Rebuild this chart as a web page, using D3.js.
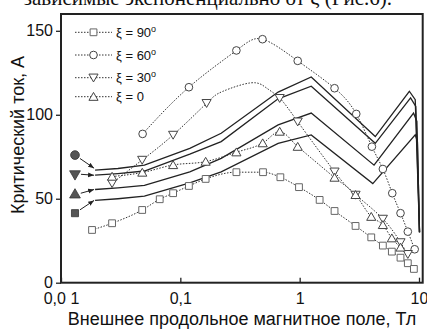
<!DOCTYPE html>
<html><head><meta charset="utf-8">
<script src="https://cdn.jsdelivr.net/npm/d3@7"></script>
<style>body{margin:0;background:#fff}svg{display:block}</style>
</head><body><svg id="c" width="427" height="332"></svg>
<script>
// ---- data (x in T, y in A) ----
const xi90 = [[0.0182,31.4],[0.0268,35.4],[0.0479,43.3],[0.0672,49.7],[0.087,53.3],[0.118,57.6],[0.163,61.8],[0.295,65.8],[0.493,65.8],[0.689,62.8],[0.987,56.9],[1.47,49.3],[1.96,42.7],[2.94,33.8],[3.98,27.0],[4.98,22.1],[5.92,18.5],[7.0,14.9],[8.06,11.6],[9.06,8.2]];
const xi60 = [[0.0483,88.6],[0.118,116.4],[0.295,138.3],[0.488,145.0],[0.963,132.1],[1.96,115.8],[2.98,100.5],[4.03,81.0],[4.98,67.7],[5.97,53.3],[7.0,41.4],[8.06,30.4],[9.2,19.9]];
const xi30 = [[0.0268,59.2],[0.0479,73.1],[0.087,88.0],[0.166,106.9],[0.68,109.9],[0.963,95.9],[1.96,66.1],[2.94,52.3],[4.98,38.0],[7.0,24.0],[8.06,17.0]];
// dotted guide curve of the ξ = 30° series
const xi30Curve = [[0.0268,59.2],[0.0479,73.1],[0.087,88.0],[0.166,106.9],[0.228,114],[0.39,119],[0.526,116],[0.68,109.9],[0.963,95.9],[1.96,66.1],[2.94,52.3],[4.98,38.0],[7.0,24.0],[8.06,17.0]];
const xi0  = [[0.0268,63.2],[0.048,65.6],[0.087,70.1],[0.163,72.1],[0.295,77.7],[0.49,83.1],[0.68,90.0],[0.963,81.0],[1.96,62.6],[2.94,52.3],[3.98,39.3],[4.98,34.4],[5.92,26.5],[7.0,21.0]];
// theoretical curves (solid)
const thA = [[0.0193,67],[0.03,68],[0.05,70],[0.12,80],[0.22,89],[0.66,113.5],[1.25,122.5],[4.3,87],[8.3,114],[9.3,109],[10.1,30]];
const thB = [[0.0193,64],[0.03,65],[0.05,66.5],[0.12,76.5],[0.22,84],[0.66,109.5],[1.25,117],[4.3,83],[8.5,110],[9.4,105],[10.1,30]];
const thC = [[0.0193,55.5],[0.03,56.5],[0.05,58],[0.12,66],[0.22,74],[0.66,94],[1.25,101],[4.2,70],[9.0,101],[9.6,96],[10.1,30]];
const thD = [[0.0193,49],[0.03,50],[0.05,51.5],[0.12,59.5],[0.22,66],[0.66,83],[1.25,88],[4.1,59],[9.3,88],[9.7,84],[10.1,30]];
// filled reference markers on the left
const leftMarkX = 0.0131;
const leftMarkY = [76, 64.8, 52.3, 41.4];
// ticks
const yMajor = [0, 50, 100, 150];
const yMinor = [10,20,30,40,60,70,80,90,110,120,130,140];
const xMajor = [0.01, 0.1, 1, 10];
const xTickLabels = ["0,0 1", "0,1", "1", "10"];
const legendLabels = ["ξ = 90", "ξ = 60", "ξ = 30", "ξ = 0"];
const legendDeg = [true, true, true, false];

const svg = d3.select("#c");
const x = d3.scaleLog().domain([0.01, 10.74]).range([61, 422.7]);
const y = d3.scaleLinear().domain([0, 160]).range([282.7, 14]);
const font = "'Liberation Sans', Arial, sans-serif";

// clipped text from the page above the figure
svg.append("text").attr("x", 392).attr("y", 5).attr("text-anchor", "end")
  .attr("font-family", "'Liberation Serif', 'Times New Roman', serif").attr("font-size", 21)
  .attr("fill", "#111").text("зависимые экспоненциально от ξ (Рис.6).");

const xMinor = [];
[0.01, 0.1, 1].forEach(d => { for (let k = 2; k <= 9; k++) xMinor.push(d * k); });

// axes
const gy = svg.append("g").attr("transform", "translate(61,0)");
gy.call(d3.axisLeft(y).tickValues(yMinor).tickSize(3).tickFormat(""));
gy.call(d3.axisLeft(y).tickValues(yMajor).tickSize(5).tickPadding(3));
gy.selectAll(".domain").remove();
gy.selectAll("line").attr("stroke", "#222").attr("stroke-width", 1.3);
gy.selectAll("text").attr("font-family", font).attr("font-size", 16).attr("fill", "#111");

const gx = svg.append("g").attr("transform", "translate(0,282.7)");
gx.call(d3.axisBottom(x).tickValues(xMinor).tickSize(-3).tickFormat(""));
gx.call(d3.axisBottom(x).tickValues(xMajor).tickSize(-5).tickPadding(10)
  .tickFormat((d, i) => xTickLabels[i]));
gx.selectAll(".domain").remove();
gx.selectAll("line").attr("stroke", "#222").attr("stroke-width", 1.3);
gx.selectAll("text").attr("font-family", font).attr("font-size", 16).attr("fill", "#111");

// frame
svg.append("rect").attr("x", 61).attr("y", 14).attr("width", 422.7 - 61).attr("height", 282.7 - 14)
  .attr("fill", "none").attr("stroke", "#222").attr("stroke-width", 2);

// titles
svg.append("text").attr("transform", "translate(24,135) rotate(-90)").attr("text-anchor", "middle")
  .attr("font-family", font).attr("font-size", 18).attr("fill", "#111").text("Критический ток, А");
svg.append("text").attr("x", 242).attr("y", 325).attr("text-anchor", "middle")
  .attr("font-family", font).attr("font-size", 18).attr("fill", "#111")
  .text("Внешнее продольное магнитное поле, Тл");

// theory lines
const lin = d3.line().x(d => x(d[0])).y(d => y(d[1]));
[thA, thB, thC, thD].forEach(t => {
  svg.append("path").attr("d", lin(t)).attr("fill", "none").attr("stroke", "#222").attr("stroke-width", 1.3);
});

// data series
const series = [
  {data: xi90, curveData: xi90, sym: d3.symbolSquare, size: 46, rot: 0, curve: d3.curveMonotoneX, col: "#666"},
  {data: xi60, curveData: xi60, sym: d3.symbolCircle, size: 46, rot: 0, curve: d3.curveNatural, col: "#444"},
  {data: xi30, curveData: xi30Curve, sym: d3.symbolTriangle, size: 36, rot: 180, curve: d3.curveNatural, col: "#444"},
  {data: xi0,  curveData: xi0, sym: d3.symbolTriangle, size: 36, rot: 0, curve: d3.curveMonotoneX, col: "#444"}
];
series.forEach(s => {
  const l = d3.line().x(d => x(d[0])).y(d => y(d[1])).curve(s.curve);
  svg.append("path").attr("d", l(s.curveData)).attr("fill", "none").attr("stroke", "#333")
    .attr("stroke-width", 1).attr("stroke-dasharray", "1.5,1.5");
});
const symOffset = s => s.rot ? -1 : (s.sym === d3.symbolTriangle ? 1 : 0);
series.forEach(s => {
  svg.append("g").selectAll("path").data(s.data).join("path")
    .attr("d", d3.symbol().type(s.sym).size(s.size))
    .attr("transform", d => `translate(${x(d[0])},${y(d[1]) + symOffset(s)}) rotate(${s.rot})`)
    .attr("fill", "#fff").attr("stroke", s.col).attr("stroke-width", 1);
});

// arrows + filled markers
svg.append("defs").append("marker").attr("id", "ah").attr("viewBox", "0 0 10 10")
  .attr("refX", 10).attr("refY", 5).attr("markerWidth", 6).attr("markerHeight", 6)
  .attr("orient", "auto").attr("markerUnits", "userSpaceOnUse")
  .append("path").attr("d", "M0,1 L10,5 L0,9 Z").attr("fill", "#222");
const fillSyms = [[d3.symbolCircle, 0, 60], [d3.symbolTriangle, 180, 50], [d3.symbolTriangle, 0, 50], [d3.symbolSquare, 0, 50]];
const starts = [thA[0], thB[0], thC[0], thD[0]];
leftMarkY.forEach((v, i) => {
  const mx = x(leftMarkX), my = y(v);
  const ex = x(starts[i][0]) - 1, ey = y(starts[i][1]) + (i === 0 ? -2 : 0);
  const dx = ex - mx, dy = ey - my, L = Math.hypot(dx, dy);
  svg.append("line").attr("x1", mx + dx / L * 6).attr("y1", my + dy / L * 6)
    .attr("x2", ex).attr("y2", ey).attr("stroke", "#222").attr("stroke-width", 1)
    .attr("marker-end", "url(#ah)");
  svg.append("path").attr("d", d3.symbol().type(fillSyms[i][0]).size(fillSyms[i][2]))
    .attr("transform", `translate(${mx},${my}) rotate(${fillSyms[i][1]})`)
    .attr("fill", "#555").attr("stroke", "#333").attr("stroke-width", 0.8);
});

// legend
const legY = [32.3, 55, 77.7, 96.7];
series.forEach((s, i) => {
  const g = svg.append("g").attr("transform", `translate(0,${legY[i]})`);
  g.append("line").attr("x1", 75).attr("x2", 112).attr("y1", 0).attr("y2", 0)
    .attr("stroke", "#333").attr("stroke-width", 1).attr("stroke-dasharray", "1.5,1.5");
  g.append("path").attr("d", d3.symbol().type(s.sym).size(s.size))
    .attr("transform", `translate(93.5,${symOffset(s)}) rotate(${s.rot})`)
    .attr("fill", "#fff").attr("stroke", s.col);
  const t = g.append("text").attr("x", 116).attr("y", 4.5).attr("font-family", font)
    .attr("font-size", 13).attr("fill", "#111").text(legendLabels[i]);
  if (legendDeg[i]) t.append("tspan").attr("font-size", 9).attr("dy", -5).text("o");
});
</script></body></html>
